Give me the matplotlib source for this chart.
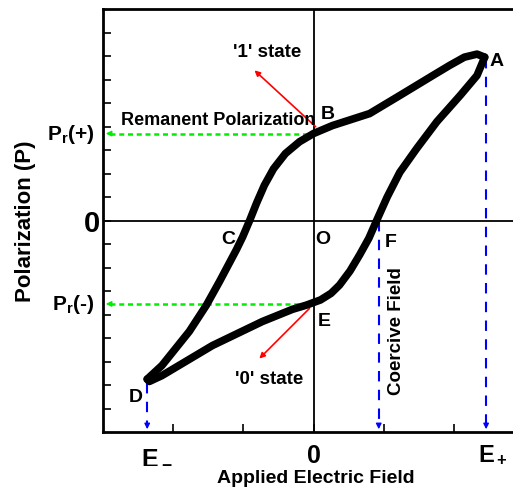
import matplotlib
matplotlib.use("Agg")
import matplotlib.pyplot as plt

plt.rcParams["font.family"] = ["Liberation Sans", "DejaVu Sans"]
plt.rcParams["font.weight"] = "bold"
plt.rcParams["mathtext.fontset"] = "custom"
plt.rcParams["mathtext.rm"] = "Liberation Sans:bold"
plt.rcParams["mathtext.bf"] = "Liberation Sans:bold"
plt.rcParams["mathtext.it"] = "Liberation Sans:bold"
plt.rcParams["mathtext.default"] = "bf"

# descending branch A -> B -> C -> D
down_x = [2.44, 2.33, 2.15, 1.94, 1.7, 1.23, 0.8, 0.27, 0.0, -0.2, -0.4,
          -0.57, -0.7, -0.81, -0.91, -1.01, -1.1, -1.34, -1.53, -1.77, -2.16, -2.37]
down_y = [6.95, 7.08, 6.95, 6.6, 6.17, 5.32, 4.55, 4.04, 3.7, 3.35, 2.85,
          2.2, 1.5, 0.75, 0.0, -0.7, -1.25, -2.6, -3.62, -4.72, -6.17, -6.75]
# ascending branch D -> E -> F -> A
up_x = [-2.37, -2.34, -2.16, -1.44, -0.73, -0.3, -0.1, 0.1, 0.25, 0.37, 0.52,
        0.66, 0.79, 0.9, 1.05, 1.23, 1.47, 1.76, 2.09, 2.33, 2.44]
up_y = [-6.75, -6.85, -6.6, -5.32, -4.3, -3.78, -3.6, -3.38, -3.1, -2.75, -2.15,
        -1.45, -0.75, 0.0, 1.0, 2.05, 3.06, 4.21, 5.32, 6.17, 6.95]

pr_plus, pr_minus = 3.7, -3.55
e_minus, e_plus, e_coercive = -2.37, 2.46, 0.93

fig = plt.figure(figsize=(5.13, 4.89), dpi=100)
ax = fig.add_axes([103 / 513, 1 - 433 / 489, (524 - 103) / 513, 423 / 489])
ax.set_xlim(-3, 3)
ax.set_ylim(-9, 9)

ax.axhline(0, color="black", lw=1.3, zorder=1)
ax.axvline(0, color="black", lw=1.3, zorder=1)

ax.plot(down_x, down_y, color="black", lw=5.5, solid_capstyle="round",
        solid_joinstyle="round", zorder=4)
ax.plot(up_x, up_y, color="black", lw=5.5, solid_capstyle="round",
        solid_joinstyle="round", zorder=4)

# remanent polarization guides
for yv in [pr_plus, pr_minus]:
    ax.plot([-2.9, 0.0], [yv, yv], color="#00ee00", lw=1.8, ls=(0, (2, 1.5)), zorder=3)
    ax.annotate("", xy=(-3, yv), xytext=(-2.85, yv),
                arrowprops=dict(arrowstyle="-|>", color="#00ee00", lw=1,
                                mutation_scale=8), zorder=3)

# field guides
for xv, ys in [(e_minus, -6.9), (e_plus, 6.9), (e_coercive, 0.0)]:
    ax.plot([xv, xv], [ys, -8.7], color="blue", lw=1.5, ls=(0, (5, 4)), zorder=3)
    ax.annotate("", xy=(xv, -9), xytext=(xv, -8.6),
                arrowprops=dict(arrowstyle="-|>", color="blue", lw=1,
                                mutation_scale=8), zorder=3)

# state arrows
ax.annotate("", xy=(-0.87, 6.47), xytext=(0.06, 3.91),
            arrowprops=dict(arrowstyle="-|>", color="red", lw=1.2, mutation_scale=8))
ax.annotate("", xy=(-0.8, -5.96), xytext=(-0.03, -3.66),
            arrowprops=dict(arrowstyle="-|>", color="red", lw=1.2, mutation_scale=8))

fs = 13.5
ax.text(-0.66, 7.2, "'1' state", fontsize=fs, ha="center", va="center")
ax.text(-0.63, -6.72, "'0' state", fontsize=fs, ha="center", va="center")
ax.text(-2.74, 4.28, "Remanent Polarization", fontsize=13, ha="left", va="center")
ax.text(1.19, -4.68, "Coercive Field", fontsize=fs, ha="center", va="center",
        rotation=90)
for lbl, lx, ly in [("A", 2.51, 6.8), ("B", 0.11, 4.55), ("C", -1.31, -0.77),
                    ("O", 0.03, -0.77), ("F", 1.01, -0.89), ("E", 0.06, -4.26),
                    ("D", -2.63, -7.49)]:
    ax.text(lx, ly, lbl, fontsize=14, ha="left", va="center")

ax.set_xticks([-2, -1, 0, 1, 2])
ax.set_yticks(range(-8, 9))
ax.set_xticklabels([])
ax.set_yticklabels([])
ax.tick_params(direction="in", length=6, width=1.2)

ax.text(-3.12, pr_plus, "P$_r$(+)", fontsize=15, ha="right", va="center")
ax.text(-3.12, pr_minus, "P$_r$(-)", fontsize=15, ha="right", va="center")
ax.text(-3.04, -0.1, "0", fontsize=21, ha="right", va="center")
ax.text(0, -9.45, "0", fontsize=18, ha="center", va="top")
ax.text(e_minus + 0.13, -9.45, "E$_-$", fontsize=18, ha="center", va="top")
ax.text(e_plus + 0.1, -9.45, "E$_+$", fontsize=17, ha="center", va="top")

ax.set_xlabel("Applied Electric Field", fontsize=14, fontweight="bold")
ax.xaxis.set_label_coords(0.506, -0.088)
ax.set_ylabel("Polarization (P)", fontsize=16, fontweight="bold")
ax.yaxis.set_label_coords(-0.16, 0.5)

for side in ["left", "bottom", "top"]:
    ax.spines[side].set_linewidth(2)
ax.spines["right"].set_visible(False)

fig.savefig("out.png", dpi=100)
